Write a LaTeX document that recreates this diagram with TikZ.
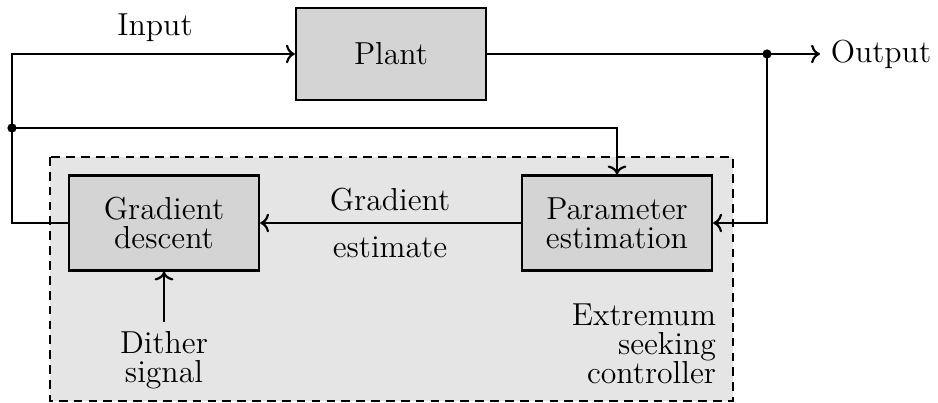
\documentclass[tikz,border=0pt]{standalone}
\usetikzlibrary{arrows.meta}
\definecolor{boxgray}{gray}{0.83}
\definecolor{regiongray}{gray}{0.9}
\begin{document}
\begin{tikzpicture}[x=0.39pt,y=-0.39pt,
  font=\fontsize{12.4}{11.3}\selectfont,
  blockbox/.style={draw, line width=0.9pt, fill=boxgray, align=center,
    minimum width=74.1pt, minimum height=37pt, inner sep=0pt},
  link/.style={line width=0.85pt},
  flow/.style={link, ->},
  junction/.style={circle, fill, inner sep=0pt, minimum size=3.6pt},
  region/.style={fill=regiongray, draw, line width=1pt, dash pattern=on 3.4pt off 2.4pt}]
\useasboundingbox (0,0) rectangle (938,403);

% controller region
\draw[region] (50,157) rectangle (733,401);

% blocks
\node[blockbox, minimum height=36pt] (plant) at (391,54) {Plant};
\node[blockbox] (gd) at (164,223) {Gradient\\descent};
\node[blockbox] (pe) at (617,223) {Parameter\\estimation};

% junctions and corners
\node[junction] (jin) at (12,128) {};
\node[junction] (jout) at (767,54) {};
\coordinate (corner) at (12,54);

% labels
\node (inlabel) at (155,28) {Input};
\node[anchor=west, inner sep=4pt] (out) at (820,54) {Output};
\node (gtop) at (390,200) {Gradient};
\node (gbot) at (390,247) {estimate};
\node[align=center] (dither) at (164,360) {Dither\\signal};
\node[align=right, anchor=east] (esc) at (725,344) {Extremum\\seeking\\controller};

% connectors
\draw[flow] (gd.west) -| (corner) -- (plant.west);
\draw[flow] (jin.center) -| (pe.north);
\draw[link] (plant.east) -- (jout.center);
\draw[flow] (jout.center) -- (out.west);
\draw[flow] (jout.center) |- (pe.east);
\draw[flow] (pe.west) -- (gd.east);
\draw[flow] (dither.north) -- (gd.south);
\end{tikzpicture}
\end{document}
